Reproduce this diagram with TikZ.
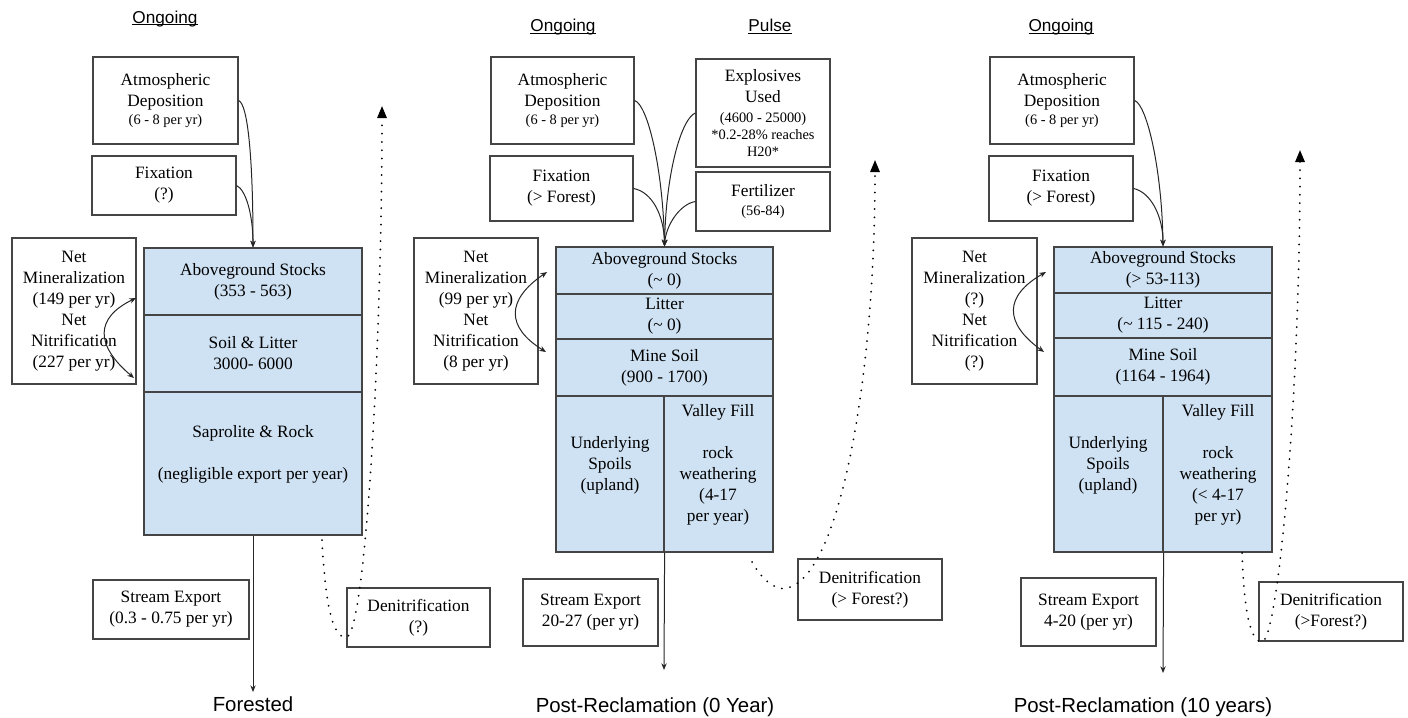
\documentclass[tikz,border=0pt]{standalone}
\usepackage{fontspec}
\setmainfont{Liberation Serif}
\newfontfamily\arialf{Liberation Sans}
\usetikzlibrary{arrows.meta}
\definecolor{boxblue}{HTML}{CFE2F3}
\definecolor{edgegray}{HTML}{454545}
\newcommand\smallt{\fontsize{10.8}{13}\selectfont}
\newsavebox\ulbox
\newcommand\ulin[1]{\sbox\ulbox{#1}\rlap{\rule[-1.3pt]{\wd\ulbox}{0.75pt}}\usebox\ulbox}
\begin{document}
\begin{tikzpicture}[x=0.75pt,y=-0.75pt,
  box/.style={draw=edgegray, line width=0.9pt, fill=white, inner sep=0pt, align=center,
              font=\fontsize{13}{15.75}\selectfont},
  sec/.style={box, fill=boxblue},
  sz/.style 2 args={minimum width=#1*0.75pt, minimum height=#2*0.75pt},
  txt/.style={align=center, inner sep=0pt, font=\fontsize{13}{15.75}\selectfont},
  ttl/.style={font=\arialf\fontsize{12.9}{15}\selectfont, anchor=base, inner sep=0pt},
  btl/.style={font=\arialf\fontsize{15.3}{18}\selectfont, anchor=base, inner sep=0pt},
  link/.style={draw=black!85, line width=0.75pt, -{Stealth[length=5pt,width=4pt]}},
  twolink/.style={draw=black!85, line width=0.75pt, {Stealth[length=5pt,width=4pt]}-{Stealth[length=5pt,width=4pt]}},
  dots/.style={draw=black, line width=1.5pt, line cap=round, dash pattern=on 0pt off 6.2pt,
               -{Triangle[length=9pt,width=7pt]}}]
\useasboundingbox (0,0) rectangle (1408,717);

% ================= Panel 1: Forested =================
\node[ttl] (on1) at (165,23.5) {\ulin{Ongoing}};
\node[box, sz={145}{87}] (atm1) at (165.5,100.5) {Atmospheric\\Deposition\\[-2pt]{\smallt (6 - 8 per yr)}};
\node[box, sz={144}{59}] (fix1) at (164,185.5) {Fixation\\(?)};
\node[box, sz={124}{146}] (nm1) at (74,311) {Net\\Mineralization\\(149 per yr)\\Net\\Nitrification\\(227 per yr)};
\node[sec, sz={218}{67}] (ag1) at (253,281.5) {Aboveground Stocks\\(353 - 563)};
\node[sec, sz={218}{77}] (sl1) at (253,353.5) {Soil \& Litter\\3000- 6000};
\node[sec, sz={218}{143}] (sr1) at (253,463.5) {};
\node[txt] (sr1t) at (253,454) {Saprolite \& Rock\\[15.75pt](negligible export per year)};
\node[box, sz={156}{59}] (se1) at (171,609.5) {Stream Export\\(0.3 - 0.75 per yr)};
\node[box, sz={143}{59}] (dn1) at (418.5,617.5) {Denitrification\\(?)};
\node[btl] (t1) at (253,711) {Forested};

\draw[link] (atm1.east) .. controls (248,104) and (253,160) .. (ag1.north);
\draw[link] (fix1.east) .. controls (246,190) and (253,215) .. (ag1.north);
\coordinate (nm1a) at (136,298);
\coordinate (nm1b) at (134,378);
\draw[twolink] (nm1a) .. controls (95,318) and (95,345) .. (nm1b);
\coordinate (e1) at (253,692);
\draw[link] (sr1.south) -- (e1);
\coordinate (d1s) at (322,540);
\coordinate (d1t) at (382,106);
\draw[dots] (d1s) .. controls (325,600) and (332,640) .. (347,637)
                  .. controls (365,630) and (382,350) .. (d1t);

% ================= Panel 2: Post-Reclamation (0 Year) =================
\node[ttl] (on2) at (563,32) {\ulin{Ongoing}};
\node[ttl] (pu2) at (770,32) {\ulin{Pulse}};
\node[box, sz={143}{87}] (atm2) at (562.5,100.5) {Atmospheric\\Deposition\\[-2pt]{\smallt (6 - 8 per yr)}};
\node[box, sz={143}{65}] (fix2) at (561.5,188.5) {Fixation\\(> Forest)};
\node[box, sz={134}{108}] (exp2) at (763,113) {Explosives\\Used\\[-1pt]{\smallt (4600 - 25000)}\\[-3pt]{\smallt *0.2-28\% reaches}\\[-3pt]{\smallt H20*}};
\node[box, sz={134}{59}] (fer2) at (763,201.5) {Fertilizer\\[-2pt]{\smallt (56-84)}};
\node[box, sz={124}{146}] (nm2) at (476,311) {Net\\Mineralization\\(99 per yr)\\Net\\Nitrification\\(8 per yr)};
\node[sec, sz={217}{47}] (ag2) at (664.5,270.5) {Aboveground Stocks\\(\textasciitilde{} 0)};
\node[sec, sz={217}{45}] (lt2) at (664.5,316.5) {Litter\\(\textasciitilde{} 0)};
\node[sec, sz={217}{57}] (ms2) at (664.5,367.5) {Mine Soil\\(900 - 1700)};
\node[sec, sz={108}{156}] (up2) at (610,474) {};
\node[sec, sz={109}{156}] (vf2) at (718.5,474) {};
\node[txt] (up2t) at (610,465) {Underlying\\Spoils\\(upland)};
\node[txt] (vf2t) at (718,465) {Valley Fill\\[15.75pt]rock\\weathering\\(4-17\\per year)};
\node[box, sz={135}{67}] (se2) at (590.5,612.5) {Stream Export\\20-27 (per yr)};
\node[box, sz={144}{61}] (dn2) at (870,589.5) {Denitrification\\(> Forest?)};
\node[btl] (t2) at (655,712) {Post-Reclamation (0 Year)};

\draw[link] (atm2.east) .. controls (648,105) and (663,170) .. (ag2.north);
\draw[link] (fix2.east) .. controls (652,192) and (664,215) .. (ag2.north);
\draw[link] (exp2.west) .. controls (682,118) and (666,170) .. (ag2.north);
\draw[link] (fer2.west) .. controls (680,204) and (666,225) .. (ag2.north);
\coordinate (nm2a) at (547,272);
\coordinate (nm2b) at (546,352);
\draw[twolink] (nm2a) .. controls (506,300) and (506,327) .. (nm2b);
\coordinate (e2) at (664,670);
\draw[link] (up2.south east) -- (e2);
\coordinate (d2s) at (752,562);
\coordinate (d2t) at (875,160);
\draw[dots] (d2s) .. controls (765,585) and (780,592) .. (790,587)
                  .. controls (840,570) and (875,380) .. (d2t);

% ================= Panel 3: Post-Reclamation (10 years) =================
\node[ttl] (on3) at (1061,32) {\ulin{Ongoing}};
\node[box, sz={144}{87}] (atm3) at (1062,100.5) {Atmospheric\\Deposition\\[-2pt]{\smallt (6 - 8 per yr)}};
\node[box, sz={144}{65}] (fix3) at (1061,188.5) {Fixation\\(> Forest)};
\node[box, sz={125}{146}] (nm3) at (974.5,311) {Net\\Mineralization\\(?)\\Net\\Nitrification\\(?)};
\node[sec, sz={218}{46}] (ag3) at (1163,270) {Aboveground Stocks\\(> 53-113)};
\node[sec, sz={218}{45}] (lt3) at (1163,315.5) {Litter\\(\textasciitilde{} 115 - 240)};
\node[sec, sz={218}{58}] (ms3) at (1163,367) {Mine Soil\\(1164 - 1964)};
\node[sec, sz={109}{156}] (up3) at (1108.5,474) {};
\node[sec, sz={109}{156}] (vf3) at (1217.5,474) {};
\node[txt] (up3t) at (1108,465) {Underlying\\Spoils\\(upland)};
\node[txt] (vf3t) at (1218,465) {Valley Fill\\[15.75pt]rock\\weathering\\(< 4-17\\per yr)};
\node[box, sz={135}{68}] (se3) at (1088.5,612) {Stream Export\\4-20 (per yr)};
\node[box, sz={144}{59}] (dn3) at (1331,611.5) {Denitrification\\(>Forest?)};
\node[btl] (t3) at (1143,712) {Post-Reclamation (10 years)};

\draw[link] (atm3.east) .. controls (1147,105) and (1162,170) .. (ag3.north);
\draw[link] (fix3.east) .. controls (1150,192) and (1163,215) .. (ag3.north);
\coordinate (nm3a) at (1046,272);
\coordinate (nm3b) at (1044,352);
\draw[twolink] (nm3a) .. controls (1004,296) and (1004,323) .. (nm3b);
\coordinate (e3) at (1163,673);
\draw[link] (up3.south east) -- (e3);
\coordinate (d3s) at (1242,553);
\coordinate (d3t) at (1300,150);
\draw[dots] (d3s) .. controls (1244,610) and (1250,642) .. (1262,642)
                  .. controls (1278,640) and (1300,400) .. (d3t);
\end{tikzpicture}
\end{document}
